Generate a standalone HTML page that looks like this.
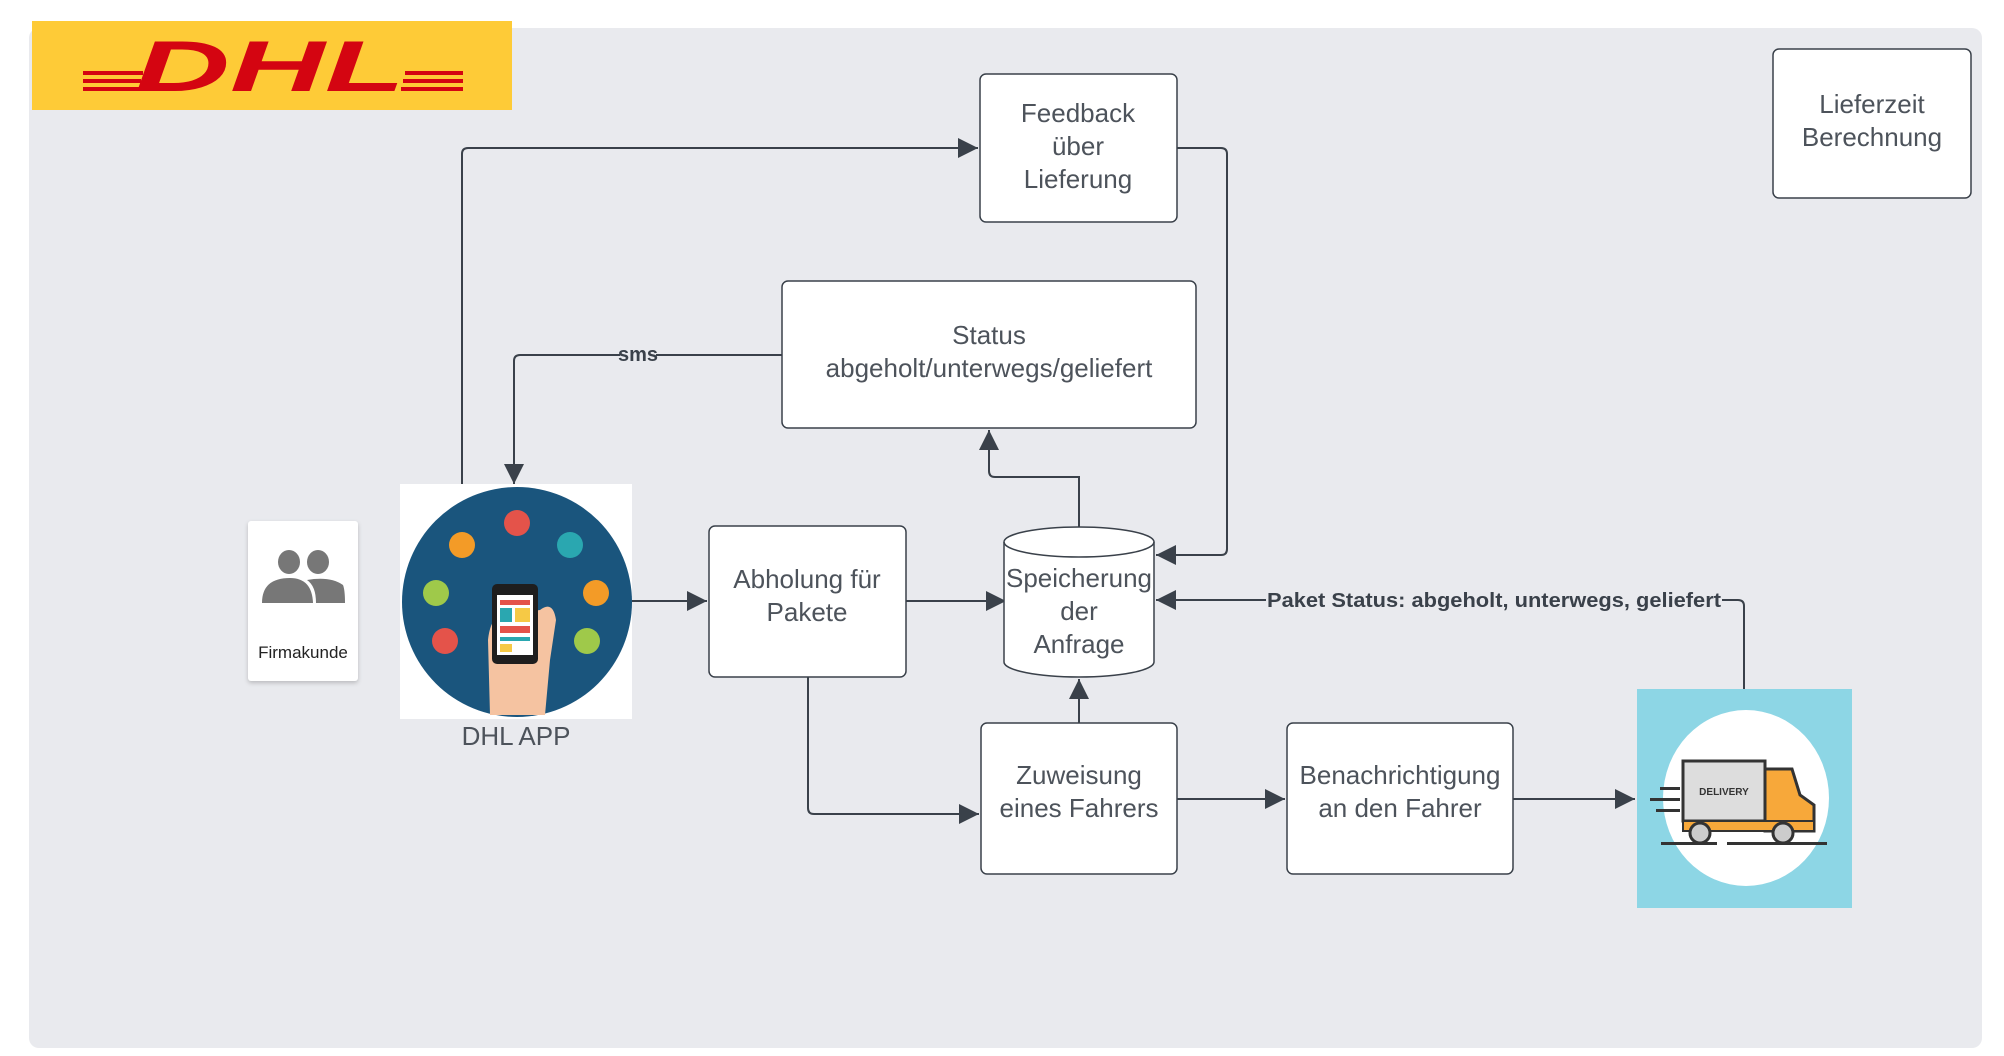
<!DOCTYPE html>
<html><head><meta charset="utf-8"><style>
html,body{margin:0;padding:0;background:#fff;width:2004px;height:1056px;overflow:hidden}
svg{display:block}
text{font-family:"Liberation Sans",sans-serif}
</style></head><body>
<svg width="2004" height="1056" viewBox="0 0 2004 1056">
<defs>
<marker id="a" viewBox="0 0 10 10" refX="10" refY="5" markerWidth="20" markerHeight="20" markerUnits="userSpaceOnUse" orient="auto"><path d="M0,0 L10,5 L0,10 z" fill="#3a414a"/></marker>
</defs>
<rect x="29" y="28" width="1953" height="1020" rx="10" fill="#e9eaee"/>
<!-- DHL logo -->
<rect x="32" y="21" width="480" height="89" fill="#fecb37"/>
<g fill="#d40511">
<rect x="83" y="71" width="60" height="4"/><rect x="83" y="79" width="58" height="4"/><rect x="83" y="87" width="56" height="4"/>
<rect x="405" y="71" width="58" height="4"/><rect x="403" y="79" width="60" height="4"/><rect x="401" y="87" width="62" height="4"/>
</g>
<text x="270" y="91" text-anchor="middle" font-size="72" font-weight="bold" font-style="italic" fill="#d40511" textLength="270" lengthAdjust="spacingAndGlyphs">DHL</text>
<g fill="none" stroke="#3a414a" stroke-width="2">
<path d="M462 484 V154 Q462 148 468 148 H978" marker-end="url(#a)"/>
<path d="M782 355 H520 Q514 355 514 361 V484" marker-end="url(#a)"/>
<path d="M1177 148 H1221 Q1227 148 1227 154 V549 Q1227 555 1221 555 H1156" marker-end="url(#a)"/>
<path d="M1079 527 V477 H995 Q989 477 989 471 V430" marker-end="url(#a)"/>
<path d="M632 601 H707" marker-end="url(#a)"/>
<path d="M906 601 H1006" marker-end="url(#a)"/>
<path d="M808 677 V808 Q808 814 814 814 H979" marker-end="url(#a)"/>
<path d="M1079 723 V679" marker-end="url(#a)"/>
<path d="M1177 799 H1285" marker-end="url(#a)"/>
<path d="M1513 799 H1635" marker-end="url(#a)"/>
<path d="M1744 689 V606 Q1744 600 1738 600 H1156" marker-end="url(#a)"/>
</g>
<rect x="620" y="343" width="36" height="22" fill="#e9eaee"/>
<text x="638" y="361" text-anchor="middle" font-size="20" font-weight="bold" fill="#3a414a">sms</text>
<rect x="1266" y="588" width="456" height="24" fill="#e9eaee"/>
<text x="1494" y="607" text-anchor="middle" font-size="20" font-weight="bold" fill="#3a414a" textLength="454" lengthAdjust="spacingAndGlyphs">Paket Status: abgeholt, unterwegs, geliefert</text>
<g fill="#fff" stroke="#3a414a" stroke-width="1.5">
<rect x="980" y="74" width="197" height="148" rx="6"/>
<rect x="1773" y="49" width="198" height="149" rx="6"/>
<rect x="782" y="281" width="414" height="147" rx="6"/>
<rect x="709" y="526" width="197" height="151" rx="6"/>
<rect x="981" y="723" width="196" height="151" rx="6"/>
<rect x="1287" y="723" width="226" height="151" rx="6"/>
<path d="M1004 542 V662 A75 15 0 0 0 1154 662 V542 A75 15 0 0 0 1004 542 Z"/>
<path d="M1004 542 A75 15 0 0 0 1154 542" fill="none"/>
</g>
<g font-size="26" fill="#4d535b" text-anchor="middle">
<text x="1078" y="122">Feedback</text><text x="1078" y="155">über</text><text x="1078" y="188">Lieferung</text>
<text x="1872" y="113">Lieferzeit</text><text x="1872" y="146">Berechnung</text>
<text x="989" y="344">Status</text><text x="989" y="377">abgeholt/unterwegs/geliefert</text>
<text x="807" y="588">Abholung für</text><text x="807" y="621">Pakete</text>
<text x="1079" y="587">Speicherung</text><text x="1079" y="620">der</text><text x="1079" y="653">Anfrage</text>
<text x="1079" y="784">Zuweisung</text><text x="1079" y="817">eines Fahrers</text>
<text x="1400" y="784">Benachrichtigung</text><text x="1400" y="817">an den Fahrer</text>
<text x="516" y="745">DHL APP</text>
</g>
<!-- Firmakunde -->
<rect x="248" y="521" width="110" height="160" rx="3" fill="#fff" filter="drop-shadow(0 2px 2px rgba(0,0,0,0.2))"/>
<g fill="#777">
<ellipse cx="289" cy="562" rx="11" ry="12"/><ellipse cx="318" cy="562" rx="11" ry="12"/>
<path d="M262 603 Q262 578 290 578 Q312 578 313 603 Z"/><path d="M316 603 Q316 586 307 580 Q330 576 343 585 Q345 590 345 603 Z"/>
</g>
<text x="303" y="658" text-anchor="middle" font-size="17" fill="#222">Firmakunde</text>
<!-- App image -->
<rect x="400" y="484" width="232" height="235" fill="#fff"/>
<circle cx="517" cy="602" r="115" fill="#1a557d"/>
<g>
<circle cx="517" cy="523" r="13" fill="#e4534a"/><circle cx="462" cy="545" r="13" fill="#f39b27"/><circle cx="570" cy="545" r="13" fill="#2aa7b0"/>
<circle cx="436" cy="593" r="13" fill="#9fc94a"/><circle cx="596" cy="593" r="13" fill="#f39b27"/>
<circle cx="445" cy="641" r="13" fill="#e4534a"/><circle cx="587" cy="641" r="13" fill="#9fc94a"/>
</g>
<path d="M490 715 L488 640 Q490 620 500 615 L540 610 Q553 600 556 620 L550 660 L545 715 Z" fill="#f5c3a1"/>
<rect x="492" y="584" width="46" height="80" rx="5" fill="#1e1e1e"/>
<rect x="497" y="595" width="36" height="60" fill="#fff"/>
<rect x="500" y="600" width="30" height="5" fill="#e4534a"/><rect x="500" y="608" width="12" height="14" fill="#2aa7b0"/><rect x="515" y="608" width="15" height="14" fill="#f6c945"/>
<rect x="500" y="626" width="30" height="7" fill="#e4534a"/><rect x="500" y="637" width="30" height="4" fill="#2aa7b0"/><rect x="500" y="644" width="12" height="8" fill="#f6c945"/>
<!-- Truck image -->
<rect x="1637" y="689" width="215" height="219" fill="#8dd6e5"/>
<ellipse cx="1746" cy="798" rx="83" ry="88" fill="#fff"/>
<rect x="1683" y="761" width="82" height="60" fill="#ddd" stroke="#333" stroke-width="3"/>
<path d="M1765 769 H1792 L1800 795 L1814 805 V831 H1765 Z" fill="#f7a83a" stroke="#333" stroke-width="3"/>
<rect x="1683" y="821" width="131" height="10" fill="#f7a83a" stroke="#333" stroke-width="2"/>
<circle cx="1700" cy="833" r="10" fill="#ccc" stroke="#333" stroke-width="3"/><circle cx="1783" cy="833" r="10" fill="#ccc" stroke="#333" stroke-width="3"/>
<rect x="1661" y="842" width="56" height="3" fill="#333"/><rect x="1727" y="842" width="100" height="3" fill="#333"/>
<rect x="1660" y="787" width="20" height="3" fill="#333"/><rect x="1650" y="798" width="30" height="3" fill="#333"/><rect x="1656" y="809" width="24" height="3" fill="#333"/>
<text x="1724" y="795" text-anchor="middle" font-size="10" font-weight="bold" fill="#333">DELIVERY</text>
</svg>
</body></html>
